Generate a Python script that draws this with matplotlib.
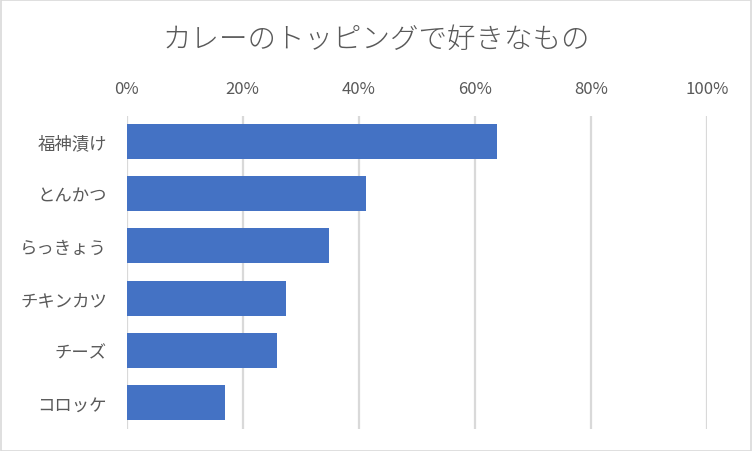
import matplotlib
matplotlib.use("Agg")
import matplotlib.pyplot as plt
from matplotlib.patches import Rectangle

plt.rcParams['font.family'] = ['Noto Sans CJK JP', 'DejaVu Sans']

categories = ["福神漬け", "とんかつ", "らっきょう", "チキンカツ", "チーズ", "コロッケ"]
values = [0.639, 0.413, 0.348, 0.274, 0.259, 0.170]
xticks = [0, 0.2, 0.4, 0.6, 0.8, 1.0]
xticklabels = ["0%", "20%", "40%", "60%", "80%", "100%"]
title = "カレーのトッピングで好きなもの"

W, H = 752, 452
fig = plt.figure(figsize=(W/100, H/100), dpi=100)
fig.patch.set_facecolor("white")
fig.add_artist(Rectangle((0.5/W, 0.5/H), 1 - 1.5/W, 1 - 1.5/H, transform=fig.transFigure,
                         fill=False, edgecolor="#d9d9d9", linewidth=1.2))

left, right, top, bottom = 126.5, 707, 116.5, 429.5
ax = fig.add_axes([left/W, 1 - bottom/H, (right-left)/W, (bottom-top)/H])

ypos = list(range(len(categories)))
ax.barh(ypos, values, height=0.67, color="#4472C4", zorder=3)
ax.set_ylim(len(categories) - 0.5, -0.5)
ax.set_xlim(0, 1.0)
ax.set_yticks(ypos)
ax.set_yticklabels(categories, fontsize=12.5, color="#595959")
ax.set_xticks(xticks)
ax.set_xticklabels(xticklabels, fontsize=12, color="#595959")
ax.xaxis.tick_top()
ax.tick_params(axis='x', length=0, pad=13)
ax.tick_params(axis='y', length=0, pad=14)
ax.grid(axis='x', color="#d9d9d9", linewidth=1.6, zorder=0)
for s in ax.spines.values():
    s.set_visible(False)

fig.text(0.5, 1 - 40/H, title, ha='center', va='center', fontsize=20.5,
         color="#595959", fontweight='light')

fig.savefig("out.png", dpi=100)
